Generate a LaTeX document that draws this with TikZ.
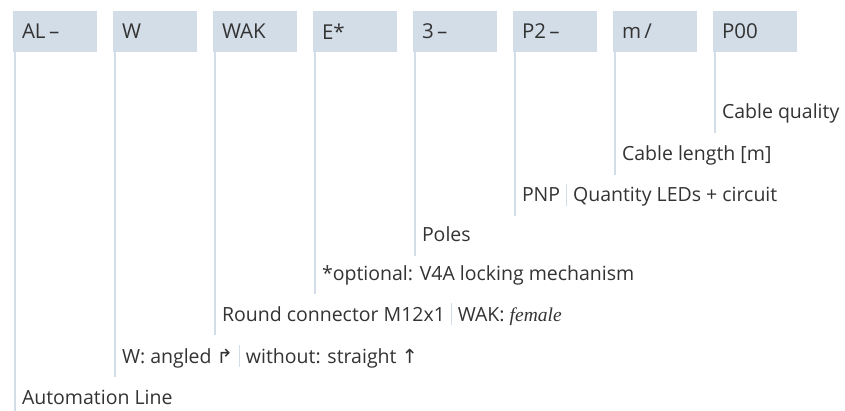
\documentclass[tikz,border=0pt]{standalone}
\usepackage{fontspec}
\setmainfont{Open Sans}
\newfontfamily\arrowfont{DejaVu Sans}
\definecolor{boxfillcolor}{RGB}{211,221,232}
\definecolor{stemcolor}{RGB}{211,221,232}
\definecolor{textcolor}{RGB}{51,51,51}
\newcommand\partsep{\hspace{0.3em}\textcolor{stemcolor}{\rule[-0.2em]{1.2pt}{1.1em}}\hspace{0.3em}}

\begin{document}
\begin{tikzpicture}[
	x=1pt, y=-1pt,
	codebox/.style={fill=boxfillcolor, anchor=north west, minimum width=84pt,
		minimum height=41pt, text width=66pt, inner xsep=9pt, inner ysep=0pt,
		align=left, text=textcolor, font=\fontsize{20.5}{20.5}\selectfont},
	desc/.style={anchor=base west, inner sep=0pt, text=textcolor,
		font=\fontsize{19.5}{19.5}\selectfont},
	stem/.style={draw=stemcolor, line width=2.4pt},
	every node/.style={outer sep=0pt},
]
\useasboundingbox (0,0) rectangle (845,411);
% \codepart{box left}{description row}(name){box text}{description}.
\def\codepart#1#2(#3)#4#5{
	\node[codebox] at (#1,11) (#3box) {#4};
	\node[desc] at (#1+9,#2+6) (#3) {#5};
	\coordinate (#3end) at (#1+2.2,#2+20);
	\draw[stem] (#3box.south west) ++(2.2,0) -- (#3end);
}
	\codepart{13}{398}(AL){AL\,--}{Automation Line}
	\codepart{113}{357}(W){W}{W: angled {\arrowfont ↱}\partsep without: straight {\arrowfont ↑}}
	\codepart{213}{315}(WAK){WAK}{Round connector M12x1\partsep WAK:
		{\fontspec{Liberation Serif}\itshape female}}
	\codepart{313}{274}(E){E*}{*optional: V4A locking mechanism}
	\codepart{413}{236}(poles){3\,--}{Poles}
	\codepart{513}{196}(PNP){P2\,--}{PNP\partsep Quantity LEDs + circuit}
	\codepart{613}{155}(length){m\,/}{Cable length [m]}
	\codepart{713}{113}(quality){P00}{Cable quality}
\end{tikzpicture}
\end{document}
